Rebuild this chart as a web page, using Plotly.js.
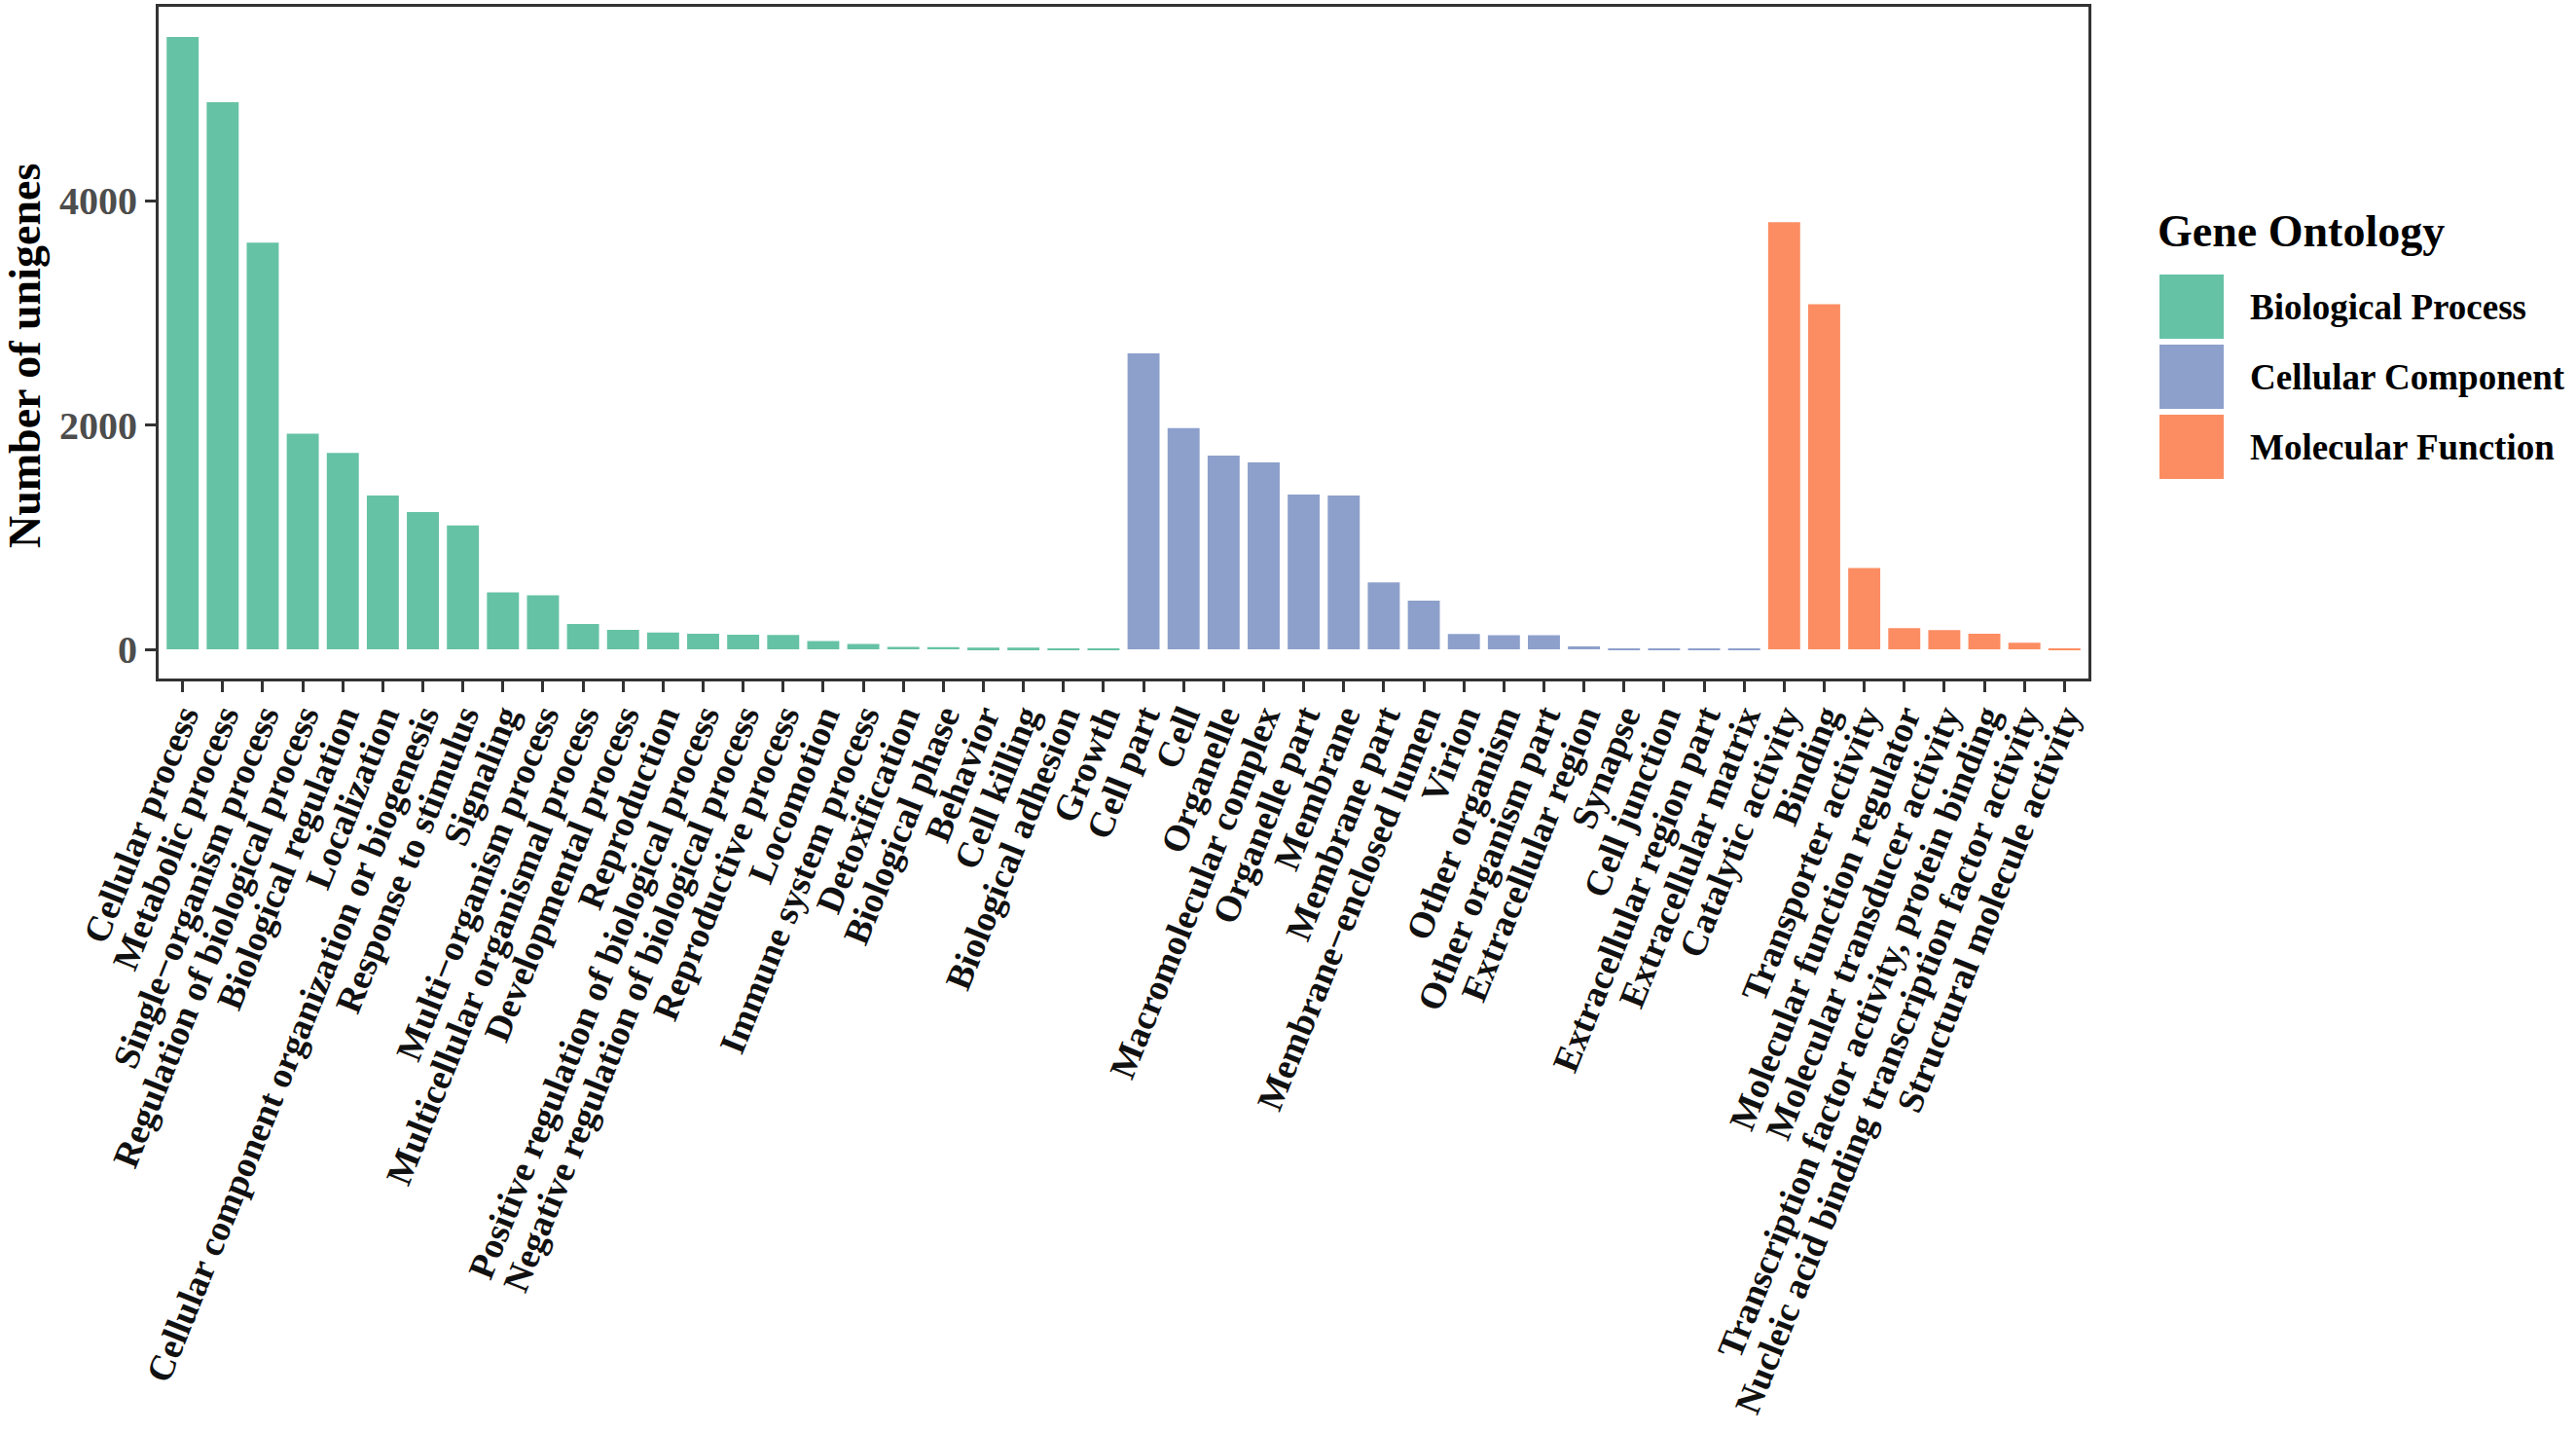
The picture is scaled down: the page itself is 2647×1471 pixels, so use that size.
<!DOCTYPE html>
<html>
<head>
<meta charset="utf-8">
<script src="https://cdn.plot.ly/plotly-3.0.1.min.js"></script>
<style>
  html, body { margin: 0; padding: 0; background: #FFFFFF; }
  #chart { width: 2647px; height: 1471px; }
</style>
</head>
<body>
<div id="chart"></div>
<script>
// GO level-2 terms, one list per ontology
const bpTerms = [
    'Cellular process', 'Metabolic process', 'Single\u2212organism process',
    'Regulation of biological process', 'Biological regulation', 'Localization',
    'Cellular component organization or biogenesis', 'Response to stimulus', 'Signaling',
    'Multi\u2212organism process', 'Multicellular organismal process', 'Developmental process',
    'Reproduction', 'Positive regulation of biological process',
    'Negative regulation of biological process', 'Reproductive process', 'Locomotion',
    'Immune system process', 'Detoxification', 'Biological phase', 'Behavior',
    'Cell killing', 'Biological adhesion', 'Growth'
];
const bpCounts = [5459, 4877, 3626, 1922, 1751, 1372, 1224, 1104, 508, 481, 225, 174,
    151, 140, 130, 128, 73, 49, 22, 20, 15, 15, 10, 5];

const ccTerms = [
    'Cell part', 'Cell', 'Organelle', 'Macromolecular complex', 'Organelle part', 'Membrane',
    'Membrane part', 'Membrane\u2212enclosed lumen', 'Virion', 'Other organism',
    'Other organism part', 'Extracellular region', 'Synapse', 'Cell junction',
    'Extracellular region part', 'Extracellular matrix'
];
const ccCounts = [2638, 1972, 1728, 1666, 1380, 1372, 597, 434, 136, 127, 127, 27, 8, 6, 6, 4];

const mfTerms = [
    'Catalytic activity', 'Binding', 'Transporter activity', 'Molecular function regulator',
    'Molecular transducer activity', 'Transcription factor activity, protein binding',
    'Nucleic acid binding transcription factor activity', 'Structural molecule activity'
];
const mfCounts = [3808, 3076, 725, 188, 171, 139, 58, 4];

const groupNames = ['Biological Process', 'Cellular Component', 'Molecular Function'];
const groupColors = ['#66C2A5', '#8DA0CB', '#FC8D62'];
const yTicks = [0, 2000, 4000];

const W = 2647, H = 1471;
const M = { l: 163, r: 501, t: 7, b: 774 };

// pixel -> paper helpers for the hand-made legend and y title
function px(x) { return (x - M.l) / (W - M.l - M.r); }
function py(y) { return (H - M.b - y) / (H - M.t - M.b); }

const serif = 'Liberation Serif, Times New Roman, serif';
const allTerms = bpTerms.concat(ccTerms, mfTerms);

const traces = [[bpTerms, bpCounts], [ccTerms, ccCounts], [mfTerms, mfCounts]].map((g, i) => ({
    type: 'bar',
    x: g[0],
    y: g[1],
    name: groupNames[i],
    marker: { color: groupColors[i] },
    showlegend: false,
    hoverinfo: 'x+y'
}));

// legend drawn by hand so the keys can be as large as ggplot's
const shapes = [];
const annotations = [{
    xref: 'paper', yref: 'paper',
    x: px(2215), y: py(238),
    xanchor: 'left', yanchor: 'middle',
    text: 'Gene Ontology',
    showarrow: false,
    font: { family: serif, size: 46, color: '#000000', weight: 700 }
}, {
    // y axis title, centred a little below the panel middle as in the original
    xref: 'paper', yref: 'paper',
    x: px(26), y: py(366),
    xanchor: 'center', yanchor: 'middle',
    textangle: -90,
    text: 'Number of unigenes',
    showarrow: false,
    font: { family: serif, size: 46, color: '#000000', weight: 700 }
}];
groupNames.forEach((name, i) => {
    const top = 282 + i * 72;
    shapes.push({
        type: 'rect', xref: 'paper', yref: 'paper',
        x0: px(2219), x1: px(2285), y0: py(top), y1: py(top + 66),
        fillcolor: groupColors[i], line: { width: 0 }
    });
    annotations.push({
        xref: 'paper', yref: 'paper',
        x: px(2310), y: py(top + 33),
        xanchor: 'left', yanchor: 'middle',
        text: name,
        showarrow: false,
        font: { family: serif, size: 37, color: '#000000', weight: 700 }
    });
});

const axisLine = {
    showline: true, linewidth: 3, linecolor: '#333333', mirror: true,
    ticks: 'outside', ticklen: 11, tickwidth: 3, tickcolor: '#333333',
    showgrid: false, zeroline: false
};

const layout = {
    width: W,
    height: H,
    margin: M,
    paper_bgcolor: '#FFFFFF',
    plot_bgcolor: '#FFFFFF',
    barmode: 'overlay',
    bargap: 0.2,
    showlegend: false,
    xaxis: Object.assign({}, axisLine, {
        type: 'category',
        categoryorder: 'array',
        categoryarray: allTerms,
        tickmode: 'array',
        tickvals: allTerms,
        ticktext: allTerms,
        range: [-0.6, allTerms.length - 0.4],
        tickangle: -68,
        ticklabelstandoff: -12,
        tickfont: { family: serif, size: 37.5, color: '#111111', weight: 700 }
    }),
    yaxis: Object.assign({}, axisLine, {
        range: [-260, 5727],
        tickvals: yTicks,
        ticktext: yTicks.map(String),
        tickfont: { family: serif, size: 40, color: '#4D4D4D', weight: 700 }
    }),
    shapes: shapes,
    annotations: annotations
};

Plotly.newPlot('chart', traces, layout, { displayModeBar: false, responsive: false });
</script>
</body>
</html>
